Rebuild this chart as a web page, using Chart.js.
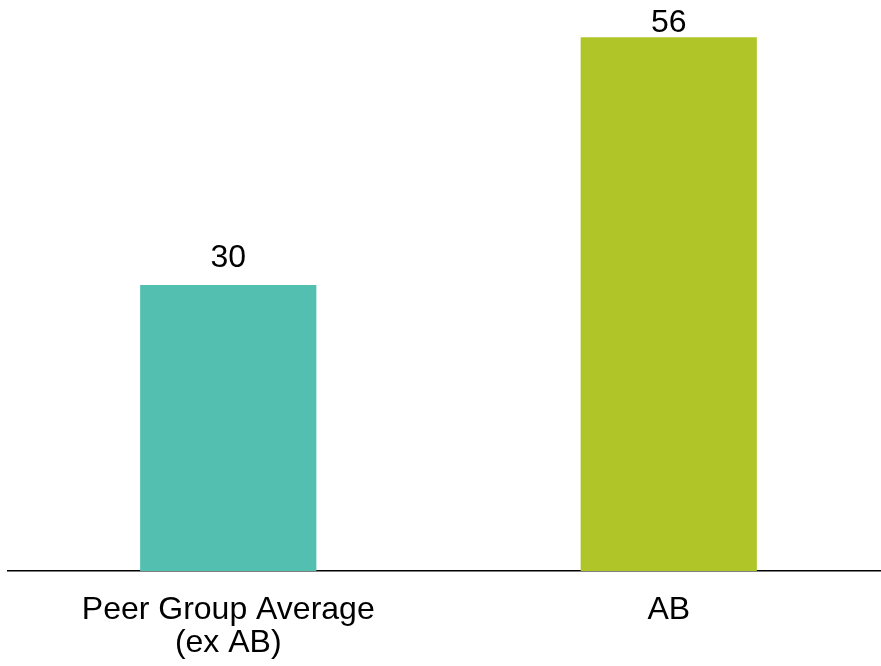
<!DOCTYPE html>
<html>
<head>
<meta charset="utf-8">
<script src="https://cdn.jsdelivr.net/npm/chart.js@4/dist/chart.umd.min.js"></script>
<style>
  html, body { margin: 0; padding: 0; background: #fff; overflow: hidden; }
  #chart { display: block; }
</style>
</head>
<body>
<canvas id="chart" width="889" height="666"></canvas>
<script>
// chart data
const categories = [['Peer Group Average', '(ex AB)'], 'AB'];
const values = [30, 56];
const barColors = ['#52bfb0', '#b0c528'];

const FONT = '"Liberation Sans", Arial, sans-serif';

// draws the number above each bar, kept inside the top of the chart
const valueLabels = {
    id: 'valueLabels',
    afterDatasetsDraw(chart) {
        const ctx = chart.ctx;
        const meta = chart.getDatasetMeta(0);
        const minBaseline = chart.chartArea.top + 32;
        ctx.save();
        ctx.font = '32px ' + FONT;
        ctx.fillStyle = '#000';
        ctx.textAlign = 'center';
        ctx.textBaseline = 'alphabetic';
        meta.data.forEach((bar, i) => {
            const y = Math.max(bar.y - 18, minBaseline);
            ctx.fillText(String(values[i]), bar.x, y);
        });
        ctx.restore();
    }
};

new Chart(document.getElementById('chart'), {
    type: 'bar',
    data: {
        labels: categories,
        datasets: [{
            data: values,
            backgroundColor: barColors,
            barPercentage: 0.4,
            categoryPercentage: 1
        }]
    },
    options: {
        responsive: false,
        animation: false,
        layout: { padding: { left: 8, right: 0, top: 0, bottom: 0 } },
        plugins: {
            legend: { display: false },
            tooltip: { enabled: false }
        },
        scales: {
            x: {
                grid: { display: false, drawTicks: false },
                border: { display: true, color: '#000', width: 1.5 },
                ticks: {
                    color: '#000',
                    font: { family: FONT, size: 32, lineHeight: 1.05 },
                    padding: 22,
                    maxRotation: 0
                },
                afterFit(scale) { scale.height = 95; }
            },
            y: {
                display: false,
                min: 0,
                max: 59.9
            }
        }
    },
    plugins: [valueLabels]
});
</script>
</body>
</html>
